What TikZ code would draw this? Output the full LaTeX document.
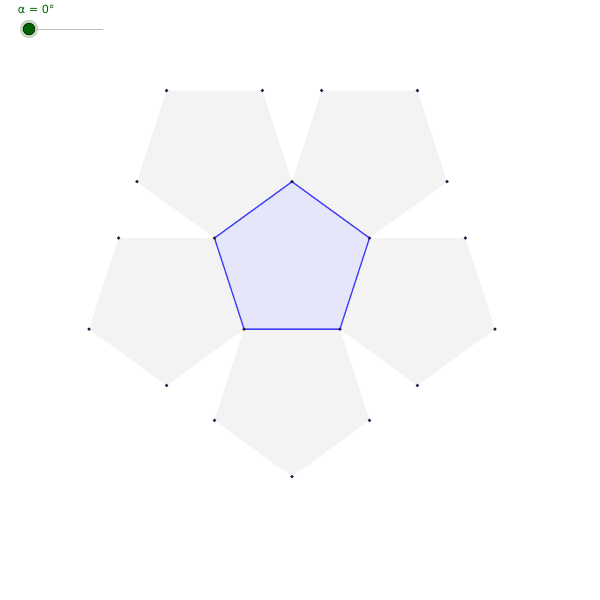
\documentclass[tikz,border=0pt]{standalone}
\usepackage{fontspec}
\setmainfont{DejaVu Sans}
\definecolor{facegray}{RGB}{243,243,243}
\definecolor{faceblue}{RGB}{230,230,250}
\definecolor{edgeblue}{RGB}{64,64,245}
\definecolor{dotnavy}{RGB}{30,30,70}
\definecolor{ggbgreen}{RGB}{0,100,0}
\tikzset{
  outer/.style={fill=facegray},
  inner/.style={fill=faceblue, draw=edgeblue, line width=0.75pt},
  pt/.style={fill=dotnavy},
}
\begin{document}
\begin{tikzpicture}[x=0.02cm, y=0.02cm, line join=round, line cap=round]
			\def\R{81.5}
			\def\d{131.9}
			\useasboundingbox (0,0) rectangle (600,-600);
			\path (292,-263.2) coordinate (O);
			% unfolded faces
			\foreach \k in {0,...,4}{
				\pgfmathsetmacro\m{126+72*\k}
				\path (O)+(\m:\d) coordinate (C\k);
				\fill[outer] (C\k)+(\m:\R) -- +(\m+72:\R) -- +(\m+144:\R) -- +(\m+216:\R) -- +(\m+288:\R) -- cycle;
			}
			% base
			\draw[inner] (O)+(90:\R) -- +(162:\R) -- +(234:\R) -- +(306:\R) -- +(18:\R) -- cycle;
			\foreach \k in {0,...,4}{
				\pgfmathsetmacro\m{126+72*\k}
				\fill[pt] (C\k)+(\m:\R) circle (1pt) +(\m+72:\R) circle (1pt) +(\m-72:\R) circle (1pt);
				\fill[pt] (O)+(90+72*\k:\R) circle (1pt);
			}
			% slider
			\path (103,-29) coordinate (sliderend);
			\fill[ggbgreen!25] (29,-29) circle (5.2pt);
			\node[circle, inner sep=0pt, minimum size=6.6pt, fill=ggbgreen, draw=black, line width=0.3pt] (knob) at (29,-29) {};
			\draw[ggbgreen!20!gray!45, line width=0.5pt] (knob) -- (sliderend);
			\node[text=ggbgreen, font=\fontsize{6.4}{7.5}\selectfont, anchor=west, inner sep=0pt] (alpha) at (17.5,-9.5) {α = 0°};
		\end{tikzpicture}
\end{document}
